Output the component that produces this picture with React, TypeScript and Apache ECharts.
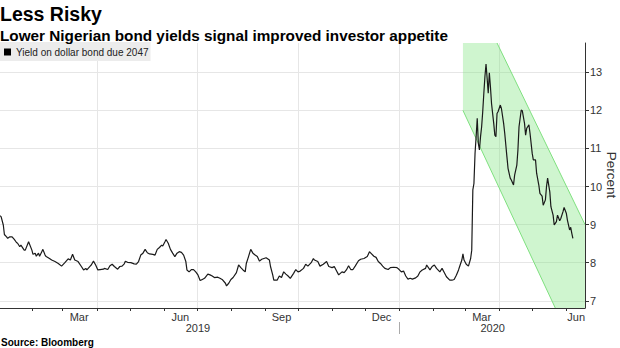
import React, { useEffect, useRef } from 'react';
import * as echarts from 'echarts';

const FONT = "'Liberation Sans', Arial, sans-serif";

const dates: string[] = [
  '2019-01-03','2019-01-04','2019-01-06','2019-01-07','2019-01-09','2019-01-10','2019-01-12','2019-01-14','2019-01-16','2019-01-18',
  '2019-01-19','2019-01-21','2019-01-22','2019-01-25','2019-01-26','2019-01-29','2019-02-01','2019-02-02','2019-02-04','2019-02-05',
  '2019-02-07','2019-02-08','2019-02-10','2019-02-11','2019-02-13','2019-02-14','2019-02-17','2019-02-19','2019-02-22','2019-02-25',
  '2019-02-28','2019-03-03','2019-03-06','2019-03-08','2019-03-10','2019-03-12','2019-03-15','2019-03-18','2019-03-20','2019-03-22',
  '2019-03-23','2019-03-26','2019-03-27','2019-03-29','2019-03-31','2019-04-02','2019-04-04','2019-04-07','2019-04-08','2019-04-11',
  '2019-04-13','2019-04-15','2019-04-17','2019-04-20','2019-04-22','2019-04-24','2019-04-26','2019-04-27','2019-04-29','2019-05-02',
  '2019-05-05','2019-05-07','2019-05-09','2019-05-11','2019-05-13','2019-05-15','2019-05-17','2019-05-19','2019-05-22','2019-05-24',
  '2019-05-26','2019-05-28','2019-05-30','2019-05-31','2019-06-02','2019-06-03','2019-06-05','2019-06-07','2019-06-09','2019-06-11',
  '2019-06-13','2019-06-15','2019-06-17','2019-06-19','2019-06-21','2019-06-22','2019-06-24','2019-06-26','2019-06-28','2019-06-30',
  '2019-07-02','2019-07-04','2019-07-06','2019-07-08','2019-07-11','2019-07-13','2019-07-15','2019-07-17','2019-07-20','2019-07-22',
  '2019-07-24','2019-07-27','2019-07-28','2019-07-30','2019-08-01','2019-08-03','2019-08-06','2019-08-08','2019-08-10','2019-08-12',
  '2019-08-14','2019-08-15','2019-08-17','2019-08-19','2019-08-21','2019-08-23','2019-08-25','2019-08-27','2019-08-29','2019-08-31',
  '2019-09-02','2019-09-05','2019-09-06','2019-09-08','2019-09-09','2019-09-12','2019-09-14','2019-09-16','2019-09-18','2019-09-20',
  '2019-09-22','2019-09-24','2019-09-27','2019-09-29','2019-10-01','2019-10-03','2019-10-06','2019-10-08','2019-10-10','2019-10-13',
  '2019-10-15','2019-10-16','2019-10-19','2019-10-21','2019-10-24','2019-10-27','2019-10-29','2019-11-01','2019-11-03','2019-11-05',
  '2019-11-07','2019-11-10','2019-11-12','2019-11-14','2019-11-16','2019-11-18','2019-11-20','2019-11-22','2019-11-25','2019-11-27',
  '2019-11-30','2019-12-03','2019-12-05','2019-12-06','2019-12-09','2019-12-11','2019-12-13','2019-12-15','2019-12-17','2019-12-19',
  '2019-12-22','2019-12-24','2019-12-27','2019-12-30','2020-01-01','2020-01-03','2020-01-05','2020-01-07','2020-01-09','2020-01-11',
  '2020-01-13','2020-01-16','2020-01-18','2020-01-20','2020-01-22','2020-01-25','2020-01-26','2020-01-29','2020-01-31','2020-02-02',
  '2020-02-04','2020-02-07','2020-02-09','2020-02-11','2020-02-13','2020-02-16','2020-02-18','2020-02-20','2020-02-22','2020-02-24',
  '2020-02-25','2020-02-27','2020-02-28','2020-02-29','2020-03-02','2020-03-04','2020-03-06','2020-03-07','2020-03-08','2020-03-09',
  '2020-03-10','2020-03-11','2020-03-12','2020-03-13','2020-03-14','2020-03-15','2020-03-16','2020-03-17','2020-03-18','2020-03-19',
  '2020-03-20','2020-03-21','2020-03-22','2020-03-23','2020-03-24','2020-03-25','2020-03-27','2020-03-28','2020-03-29','2020-03-30',
  '2020-03-31','2020-04-02','2020-04-03','2020-04-05','2020-04-06','2020-04-08','2020-04-09','2020-04-11','2020-04-12','2020-04-14',
  '2020-04-15','2020-04-17','2020-04-18','2020-04-19','2020-04-21','2020-04-22','2020-04-24','2020-04-25','2020-04-26','2020-04-28',
  '2020-04-29','2020-05-01','2020-05-02','2020-05-04','2020-05-05','2020-05-07','2020-05-08','2020-05-10','2020-05-11','2020-05-13',
  '2020-05-14','2020-05-15','2020-05-17','2020-05-18','2020-05-20','2020-05-21','2020-05-23','2020-05-24','2020-05-26','2020-05-27',
  '2020-05-29','2020-05-30','2020-06-01','2020-06-02','2020-06-04','2020-06-05','2020-06-06','2020-06-07'
];

const yields: number[] = [
  9.23,9.21,8.99,8.74,8.68,8.64,8.68,8.68,8.61,8.53,
  8.51,8.42,8.46,8.33,8.33,8.55,8.33,8.22,8.25,8.17,
  8.25,8.17,8.29,8.35,8.2,8.16,8.11,8.07,8.03,7.98,
  7.91,8.0,8.1,8.07,8.22,8.07,8.03,7.9,7.81,7.85,
  7.81,7.91,7.94,8.04,7.94,7.81,7.82,7.83,7.85,7.82,
  7.92,7.96,7.9,7.83,7.9,7.91,7.97,8.04,8.01,8.0,
  7.97,7.96,8.03,8.2,8.25,8.35,8.26,8.23,8.22,8.2,
  8.35,8.4,8.46,8.44,8.55,8.61,8.51,8.35,8.25,8.16,
  8.25,8.29,8.27,8.2,8.03,7.81,7.76,7.82,7.82,7.76,
  7.68,7.53,7.56,7.59,7.7,7.68,7.65,7.61,7.62,7.59,
  7.56,7.46,7.39,7.46,7.56,7.61,7.74,7.94,7.87,7.81,
  7.76,7.98,8.16,8.35,8.25,8.2,8.16,8.04,8.09,8.11,
  8.13,8.07,7.9,7.68,7.54,7.54,7.65,7.61,7.76,7.7,
  7.65,7.59,7.72,7.82,7.76,7.78,7.85,7.96,7.91,8.0,
  8.11,8.07,8.03,7.91,7.96,8.03,7.9,7.87,7.9,7.79,
  7.68,7.76,7.74,7.81,7.92,7.82,7.82,7.91,8.05,8.09,
  8.11,8.16,8.29,8.26,8.17,8.14,8.03,7.98,7.91,7.85,
  7.82,7.87,7.88,7.87,7.82,7.76,7.78,7.65,7.57,7.59,
  7.57,7.6,7.65,7.76,7.81,7.85,7.94,7.81,7.9,7.94,
  7.85,7.76,7.85,7.74,7.63,7.54,7.54,7.56,7.67,7.81,
  7.9,8.07,8.23,8.07,7.96,7.91,8.11,8.33,9.91,10.08,
  10.87,11.31,11.79,11.13,10.96,11.31,11.57,11.97,12.45,12.89,
  13.22,12.84,12.45,12.99,12.62,12.18,11.66,11.35,11.31,11.92,
  11.97,12.14,12.05,11.66,11.4,10.78,10.48,10.22,10.17,10.04,
  10.3,10.56,10.96,11.57,12.01,11.99,11.66,11.35,11.53,11.62,
  11.4,10.87,10.7,10.7,10.35,10.04,9.82,9.75,9.51,9.65,
  10.0,10.22,9.86,9.47,9.25,8.99,9.08,9.25,9.1,9.16,
  9.34,9.45,9.3,9.12,8.86,8.93,8.77,8.64
];

const seriesName = 'Yield on dollar bond due 2047';
const yAxisTitle = 'Percent';

const monthTickDates = [
  '2019-02-01','2019-03-01','2019-04-01','2019-05-01','2019-06-01','2019-07-01','2019-08-01','2019-09-01',
  '2019-10-01','2019-11-01','2019-12-01','2020-01-01','2020-02-01','2020-03-01','2020-04-01','2020-05-01','2020-06-01'
];
const monthLabels = ['Mar', 'Jun', 'Sep', 'Dec', 'Mar', 'Jun'];
const monthLabelDates = ['2019-03-16', '2019-06-16', '2019-09-16', '2019-12-16', '2020-03-16', '2020-06-10'];
const yearLabels = ['2019', '2020'];
const yearLabelDates = ['2019-07-02', '2020-03-26'];
const yearBreakDates = ['2020-01-01'];
const gridDates = ['2019-04-01', '2019-07-01', '2019-10-01', '2020-01-01', '2020-04-01'];
const yTicks = [7, 8, 9, 10, 11, 12, 13];

const xStart = '2019-01-03';
const xEnd = '2020-06-18';
const yMin = 6.81;
const yMax = 13.77;

// channel (green band) edges: [date, value]
const channelUpper: [string, number][] = [['2020-03-30', 13.77], ['2020-06-18', 9.0]];
const channelLower: [string, number][] = [['2020-02-28', 12.0], ['2020-05-22', 6.81]];

const ts = (s: string) => {
  const [y, m, d] = s.split('-').map(Number);
  return Date.UTC(y, m - 1, d);
};

const labelFor = (keys: string[], labels: string[]) => (v: number) => {
  for (let i = 0; i < keys.length; i++) {
    if (Math.abs(ts(keys[i]) - v) < 3600000) return labels[i];
  }
  return '';
};

export default function App() {
  const ref = useRef<HTMLDivElement>(null);

  useEffect(() => {
    if (!ref.current) return;
    const chart = echarts.init(ref.current, undefined, { renderer: 'svg' });

    const xMin = ts(xStart);
    const xMax = ts(xEnd);
    const lineData = dates.map((d, i) => [ts(d), yields[i]]);

    const bandPoly: [number, number][] = [
      [ts(channelLower[0][0]), yMax],
      [ts(channelUpper[0][0]), channelUpper[0][1]],
      [ts(channelUpper[1][0]), channelUpper[1][1]],
      [ts(channelUpper[1][0]), yMin],
      [ts(channelLower[1][0]), channelLower[1][1]],
      [ts(channelLower[0][0]), channelLower[0][1]],
    ];

    const axisText = { fontSize: 11, color: '#333', fontFamily: FONT };
    const xBase: any = { type: 'value', min: xMin, max: xMax, position: 'bottom', scale: true };

    const option: any = {
      animation: false,
      backgroundColor: '#fff',
      title: [
        { text: 'Less Risky', left: 0, top: 4, padding: 0,
          textStyle: { fontSize: 19.5, fontWeight: 'bold', color: '#000', fontFamily: FONT } },
        { text: 'Lower Nigerian bond yields signal improved investor appetite', left: 0, top: 28, padding: 0,
          textStyle: { fontSize: 15.3, fontWeight: 'bold', color: '#000', fontFamily: FONT } },
        { text: 'Source: Bloomberg', left: 1, top: 337, padding: 0,
          textStyle: { fontSize: 10, fontWeight: 'bold', color: '#000', fontFamily: FONT } },
      ],
      graphic: [
        {
          type: 'text',
          x: 611,
          y: 175,
          rotation: -Math.PI / 2,
          silent: true,
          style: { text: yAxisTitle, align: 'center', verticalAlign: 'middle', fontSize: 13.5, fill: '#333', fontFamily: FONT },
        },
      ],
      legend: {
        show: true,
        data: [seriesName],
        left: 0,
        top: 42,
        padding: [5, 2, 4, 4],
        backgroundColor: '#ececec',
        icon: 'rect',
        itemWidth: 7,
        itemHeight: 7,
        selectedMode: false,
        textStyle: { fontSize: 10, color: '#222', fontFamily: FONT },
      },
      grid: { left: 0, right: 35, top: 43, bottom: 40, containLabel: false, outerBoundsMode: 'none' },
      xAxis: [
        {
          ...xBase,
          axisLine: { show: true, lineStyle: { color: '#333', width: 1 } },
          axisTick: { show: true, length: 3, lineStyle: { color: '#333' }, customValues: monthTickDates.map(ts) },
          axisLabel: { show: true, ...axisText, margin: 3, customValues: monthLabelDates.map(ts),
            formatter: labelFor(monthLabelDates, monthLabels) },
          splitLine: { show: false },
        },
        {
          ...xBase,
          offset: 14,
          axisLine: { show: false },
          axisTick: { show: true, length: 12, lineStyle: { color: '#aaa' }, customValues: yearBreakDates.map(ts) },
          axisLabel: { show: true, ...axisText, margin: 0, customValues: yearLabelDates.map(ts),
            formatter: labelFor(yearLabelDates, yearLabels) },
          splitLine: { show: false },
        },
        {
          ...xBase,
          axisLine: { show: false },
          axisTick: { show: false, customValues: gridDates.map(ts) },
          axisLabel: { show: false },
          splitLine: { show: true, lineStyle: { color: '#e6e6e6', width: 1 } },
        },
      ],
      yAxis: {
        type: 'value',
        position: 'right',
        min: yMin,
        max: yMax,
        axisLine: { show: true, lineStyle: { color: '#333', width: 1 } },
        axisTick: { show: true, length: 4, lineStyle: { color: '#333' }, customValues: yTicks },
        axisLabel: { ...axisText, margin: 5, customValues: yTicks },
        splitLine: { show: true, lineStyle: { color: '#e6e6e6', width: 1 } },
      },
      series: [
        {
          type: 'custom',
          name: 'channel',
          silent: true,
          clip: true,
          xAxisIndex: 0,
          yAxisIndex: 0,
          data: [[ts(channelUpper[0][0]), channelUpper[0][1]]],
          renderItem: (_params: any, api: any) => {
            const pts = bandPoly.map((p) => api.coord(p));
            const u0 = api.coord([ts(channelUpper[0][0]), channelUpper[0][1]]);
            const u1 = api.coord([ts(channelUpper[1][0]), channelUpper[1][1]]);
            const l0 = api.coord([ts(channelLower[0][0]), channelLower[0][1]]);
            const l1 = api.coord([ts(channelLower[1][0]), channelLower[1][1]]);
            const edge = { stroke: '#7fe07f', lineWidth: 1, fill: 'none' };
            return {
              type: 'group',
              children: [
                { type: 'polygon', shape: { points: pts }, style: { fill: 'rgba(130,230,130,0.38)', stroke: 'none' } },
                { type: 'line', shape: { x1: u0[0], y1: u0[1], x2: u1[0], y2: u1[1] }, style: edge },
                { type: 'line', shape: { x1: l0[0], y1: l0[1], x2: l1[0], y2: l1[1] }, style: edge },
              ],
            };
          },
          z: 1,
        },
        {
          type: 'line',
          name: seriesName,
          xAxisIndex: 0,
          yAxisIndex: 0,
          data: lineData,
          showSymbol: false,
          symbol: 'none',
          lineStyle: { color: '#1a1a1a', width: 1.2 },
          itemStyle: { color: '#000' },
          z: 3,
        },
      ],
    };

    chart.setOption(option);
    return () => chart.dispose();
  }, []);

  return (
    <div
      ref={ref}
      style={{ position: 'absolute', left: 0, top: 0, width: 620, height: 348, background: '#fff' }}
    />
  );
}
